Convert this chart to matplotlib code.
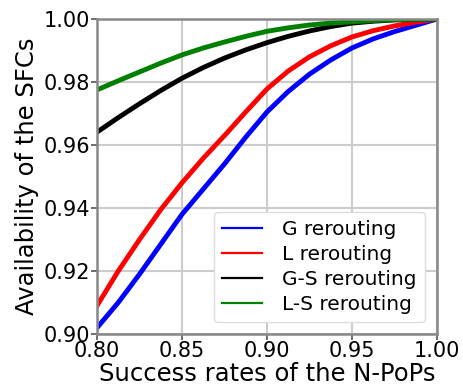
import numpy as np
import matplotlib.pyplot as plt

# success rate of the N-PoPs (x) and availability of the SFCs (y)
success_rate = [0.80, 0.8125, 0.825, 0.8375, 0.85, 0.8625, 0.875, 0.8875, 0.90,
                0.9125, 0.925, 0.9375, 0.95, 0.9625, 0.975, 0.9875, 1.00]
g_rerouting = [0.902, 0.910, 0.919, 0.9285, 0.938, 0.946, 0.954, 0.9625, 0.9705,
               0.977, 0.9825, 0.987, 0.9908, 0.9937, 0.996, 0.998, 1.0]
l_rerouting = [0.909, 0.920, 0.930, 0.9395, 0.948, 0.9558, 0.963, 0.9705, 0.9778,
               0.9835, 0.988, 0.9915, 0.9943, 0.9963, 0.9978, 0.999, 1.0]
gs_rerouting = [0.9641, 0.9687, 0.9731, 0.9773, 0.9812, 0.9846, 0.9876, 0.9902, 0.9925,
                0.9945, 0.9962, 0.9976, 0.9987, 0.9993, 0.9997, 0.9999, 1.0]
ls_rerouting = [0.9775, 0.9804, 0.9832, 0.9860, 0.9886, 0.9908, 0.9927, 0.9945, 0.9961,
                0.9972, 0.9981, 0.9987, 0.9991, 0.9995, 0.9998, 0.9999, 1.0]

x_ticks = [0.80, 0.85, 0.90, 0.95, 1.00]
y_ticks = [0.90, 0.92, 0.94, 0.96, 0.98, 1.00]

fig = plt.figure(figsize=(4.63, 3.88), dpi=100)
ax = fig.add_axes([0.2095, 0.139, 0.7343, 0.812])

lw = 3.5
ax.plot(success_rate, g_rerouting, color='blue', lw=lw, label='G rerouting')
ax.plot(success_rate, l_rerouting, color='red', lw=lw, label='L rerouting')
ax.plot(success_rate, gs_rerouting, color='black', lw=lw, label='G-S rerouting')
ax.plot(success_rate, ls_rerouting, color='green', lw=lw, label='L-S rerouting')

ax.set_xlim(0.80, 1.00)
ax.set_ylim(0.90, 1.00)
ax.set_xticks(x_ticks, ['%.2f' % t for t in x_ticks])
ax.set_yticks(y_ticks, ['%.2f' % t for t in y_ticks])
ax.tick_params(labelsize=15, color='#555555', width=1.2, length=4, pad=1)
ax.grid(True, color='#cccccc', lw=1.5)
ax.set_axisbelow(True)
for sp in ax.spines.values():
    sp.set_color('#888888')
    sp.set_linewidth(1.8)

ax.set_xlabel('Success rates of the N-PoPs', fontsize=17.5, labelpad=1)
ax.set_ylabel('Availability of the SFCs', fontsize=17.5, labelpad=3)

leg = ax.legend(loc='lower right', fontsize=14.5, handlelength=2.0, borderaxespad=0.6,
                labelspacing=0.3, handletextpad=1.0, borderpad=0.4, framealpha=1.0)
leg.get_frame().set_edgecolor('#dddddd')
for h in leg.get_lines():
    h.set_linewidth(1.6)

plt.savefig('out.png', dpi=100)
